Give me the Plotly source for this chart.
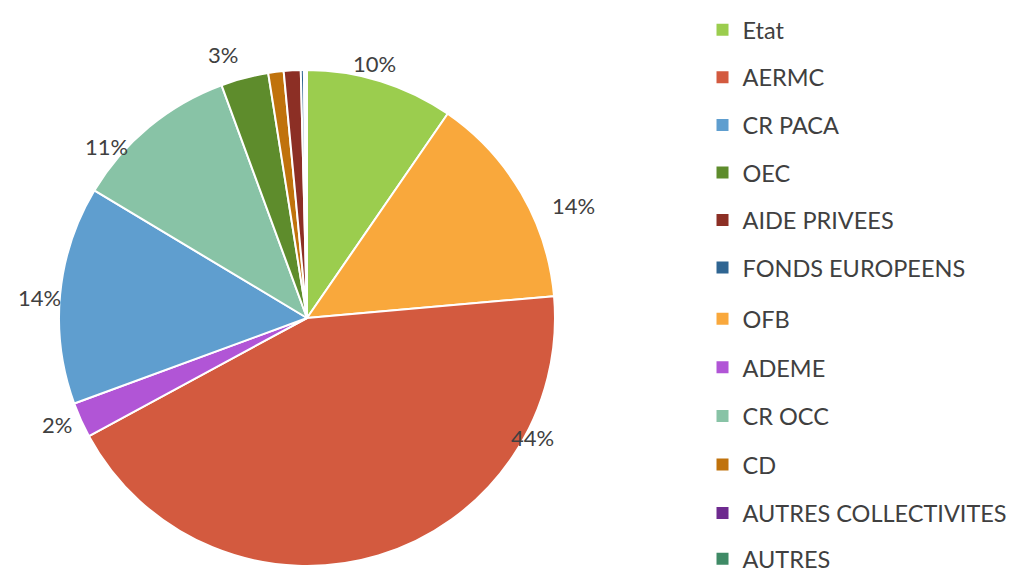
import plotly.graph_objects as go

# Slice order (clockwise from 12 o'clock)
slice_labels = ["Etat", "OFB", "AERMC", "ADEME", "CR PACA", "CR OCC", "OEC", "CD",
                "AIDE PRIVEES", "FONDS EUROPEENS", "AUTRES COLLECTIVITES", "AUTRES"]
slice_values = [9.6, 14.0, 43.5, 2.3, 14.2, 10.8, 3.1, 1.0, 1.1, 0.2, 0.1, 0.1]
# percentage labels shown by the chart (small slices unlabeled)
slice_text = ["10%", "14%", "44%", "2%", "14%", "11%", "3%", "", "", "", "", ""]

# Legend order
legend_labels = ["Etat", "AERMC", "CR PACA", "OEC", "AIDE PRIVEES", "FONDS EUROPEENS",
                 "OFB", "ADEME", "CR OCC", "CD", "AUTRES COLLECTIVITES", "AUTRES"]

colors = {
    "Etat": "#9BCD4E",
    "AERMC": "#D35A3F",
    "CR PACA": "#5F9ECF",
    "OEC": "#5E8C2C",
    "AIDE PRIVEES": "#8C2F25",
    "FONDS EUROPEENS": "#2F6592",
    "OFB": "#F9A83C",
    "ADEME": "#B155D6",
    "CR OCC": "#88C3A6",
    "CD": "#C0720C",
    "AUTRES COLLECTIVITES": "#6E2A8F",
    "AUTRES": "#3F8A66",
}

# Placement of the data labels ("best fit" style), in paper fractions
label_pos = [(0.3599, 0.9023), (0.5565, 0.6545), (0.5162, 0.2513), (0.0482, 0.2723),
             (0.0305, 0.4956), (0.0973, 0.7591), (0.2114, 0.9180), None, None, None, None, None]

FONT = "Lato"
TXT = "#404040"

fig = go.Figure()
fig.add_trace(go.Pie(
    labels=slice_labels,
    values=slice_values,
    textinfo="none",
    sort=False,
    direction="clockwise",
    rotation=0,
    marker=dict(colors=[colors[l] for l in slice_labels], line=dict(color="white", width=2)),
    showlegend=False,
    domain=dict(x=[0.05015, 0.53786], y=[0.02618, 0.89180]),
    hoverinfo="label+percent",
))

annotations = []
for txt, pos in zip(slice_text, label_pos):
    if txt and pos:
        annotations.append(dict(
            text=txt, x=pos[0], y=pos[1], xref="paper", yref="paper",
            xanchor="center", yanchor="middle",
            showarrow=False, font=dict(family=FONT, size=22, color=TXT),
        ))

for i, lab in enumerate(legend_labels):
    if i < 6:
        leg = "legend"
    elif i < 11:
        leg = "legend2"
    else:
        leg = "legend3"
    fig.add_trace(go.Scatter(
        x=[None], y=[None], mode="markers", name=lab,
        marker=dict(symbol="square", size=14, color=colors[lab]),
        legendgroup=f"g{i}", showlegend=True, legend=leg,
    ))

leg_common = dict(
    x=0.6829, xanchor="left",
    font=dict(family=FONT, size=23.5, color=TXT),
    itemsizing="constant", itemwidth=30,
    bgcolor="rgba(0,0,0,0)",
    maxheight=330,
)

fig.update_layout(
    width=1017, height=573,
    margin=dict(l=0, r=0, t=0, b=0),
    paper_bgcolor="white", plot_bgcolor="white",
    xaxis=dict(visible=False), yaxis=dict(visible=False),
    legend=dict(y=1.0, yanchor="top", traceorder="grouped", tracegroupgap=14, **leg_common),
    legend2=dict(y=0.4956, yanchor="top", traceorder="grouped", tracegroupgap=15, **leg_common),
    legend3=dict(y=0.0, yanchor="bottom", traceorder="normal", **leg_common),
    annotations=annotations,
)

fig.write_html("out.html")
